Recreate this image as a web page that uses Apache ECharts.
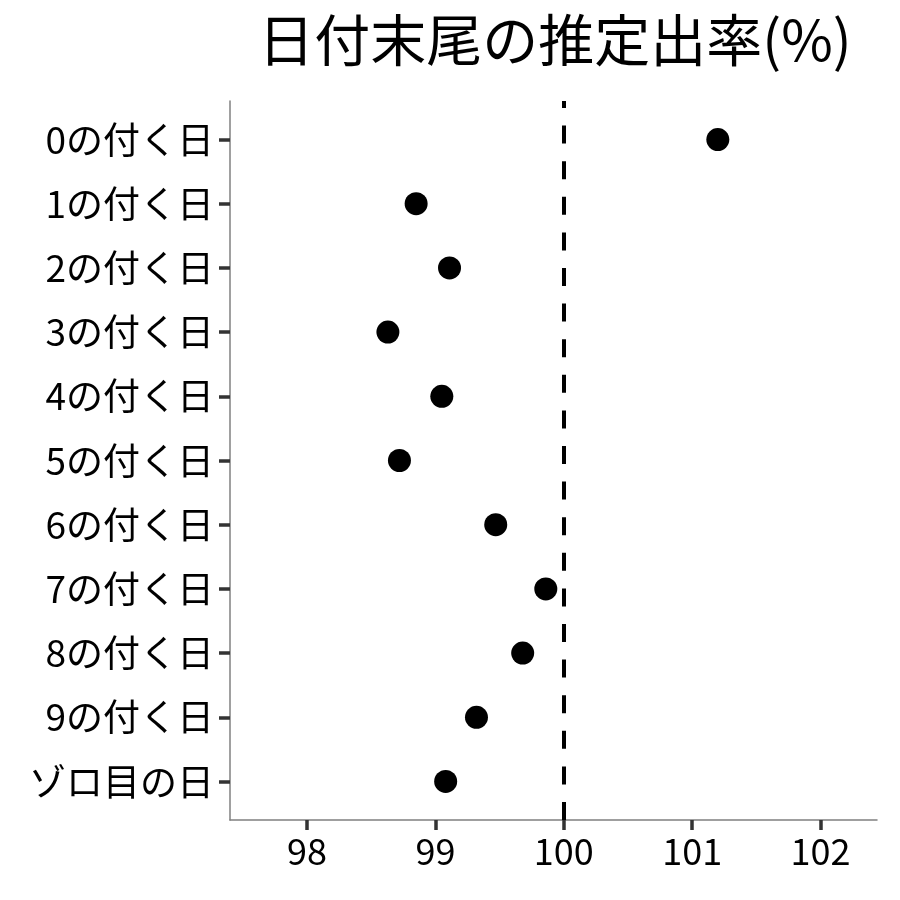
<!DOCTYPE html>
<html>
<head>
<meta charset="utf-8">
<script src="https://cdn.jsdelivr.net/npm/echarts@6/dist/echarts.min.js"></script>
<style>
  html, body { margin: 0; padding: 0; background: #fff; }
  #chart { width: 900px; height: 900px; }
</style>
</head>
<body>
<div id="chart"></div>
<script>
// 日付末尾ごとの推定出率
const categories = ['0の付く日', '1の付く日', '2の付く日', '3の付く日', '4の付く日',
  '5の付く日', '6の付く日', '7の付く日', '8の付く日', '9の付く日', 'ゾロ目の日']
const rates = [101.2, 98.85, 99.11, 98.63, 99.05, 98.72, 99.47, 99.86, 99.68, 99.32, 99.08]
const xTicks = [98, 99, 100, 101, 102]
const refLine = 100

const font = '"Noto Sans CJK JP", "Noto Sans", sans-serif'

const myChart = echarts.init(document.getElementById('chart'))

const option = {
  animation: false,
  title: {
    text: '日付末尾の推定出率(%)',
    left: 550,
    textAlign: 'center',
    top: 7,
    textStyle: {
      fontFamily: font,
      fontSize: 56,
      fontWeight: 'normal',
      color: '#000'
    }
  },
  grid: {
    left: 230,
    right: 23,
    top: 101,
    bottom: 80
  },
  xAxis: {
    type: 'value',
    min: 97.40,
    max: 102.44,
    axisLine: { show: true, onZero: false, lineStyle: { color: '#808080', width: 1.5 } },
    axisTick: {
      show: true,
      customValues: xTicks,
      length: 10,
      lineStyle: { color: '#333', width: 3.5 }
    },
    axisLabel: {
      customValues: xTicks,
      fontFamily: font,
      fontSize: 36,
      color: '#000',
      margin: 13
    },
    splitLine: { show: false }
  },
  yAxis: {
    type: 'value',
    inverse: true,
    min: -0.6,
    max: 10.6,
    axisLine: { show: true, onZero: false, lineStyle: { color: '#808080', width: 1.5 } },
    axisTick: {
      show: true,
      customValues: categories.map((c, i) => i),
      length: 11,
      lineStyle: { color: '#333', width: 3.5 }
    },
    axisLabel: {
      customValues: categories.map((c, i) => i),
      formatter: (v) => categories[Math.round(v)],
      fontFamily: font,
      fontSize: 37,
      color: '#000',
      margin: 16
    },
    splitLine: { show: false }
  },
  series: [
    {
      type: 'scatter',
      data: rates.map((v, i) => [v, i]),
      symbol: 'circle',
      symbolSize: 23,
      itemStyle: { color: '#000', opacity: 1 },
      markLine: {
        silent: true,
        symbol: 'none',
        label: { show: false },
        lineStyle: { color: '#000', width: 4, type: [18, 17.6], dashOffset: 11 },
        data: [{ xAxis: refLine }]
      }
    }
  ]
}

myChart.setOption(option)
</script>
</body>
</html>
